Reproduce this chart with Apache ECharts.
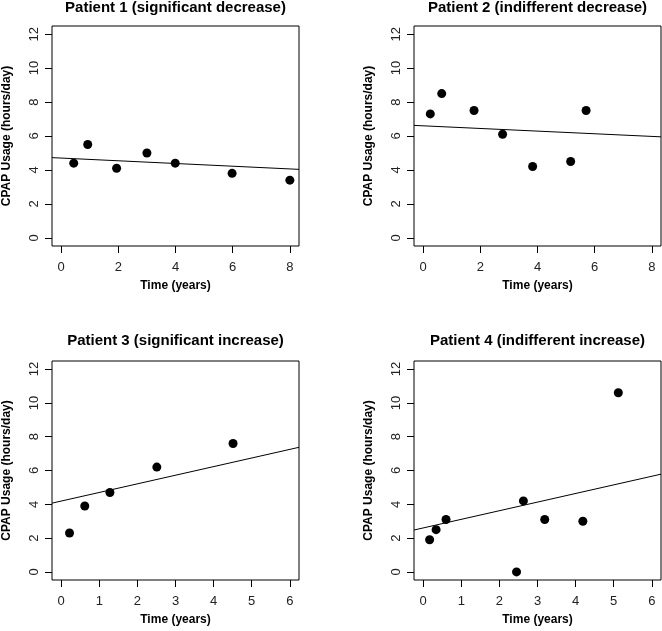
<!DOCTYPE html>
<html>
<head>
<meta charset="utf-8">
<script src="https://cdn.jsdelivr.net/npm/echarts@6/dist/echarts.min.js"></script>
<style>
html,body{margin:0;padding:0;background:#fff;}
#chart{width:662px;height:631px;}
</style>
</head>
<body>
<div id="chart"></div>
<script>
// ---- data ----
const titles = [
  "Patient 1 (significant decrease)",
  "Patient 2 (indifferent decrease)",
  "Patient 3 (significant increase)",
  "Patient 4 (indifferent increase)"
];
const p1Time = [0.44, 0.93, 1.94, 3.0, 3.99, 5.98, 8.0];
const p1Usage = [4.4, 5.5, 4.1, 5.0, 4.4, 3.8, 3.4];
const p2Time = [0.25, 0.65, 1.78, 2.78, 3.83, 5.16, 5.7];
const p2Usage = [7.3, 8.5, 7.5, 6.1, 4.2, 4.5, 7.5];
const p3Time = [0.22, 0.62, 1.28, 2.51, 4.51];
const p3Usage = [2.3, 3.9, 4.7, 6.2, 7.6];
const p4Time = [0.17, 0.34, 0.6, 2.45, 2.63, 3.19, 4.19, 5.12];
const p4Usage = [1.9, 2.5, 3.1, 0.0, 4.2, 3.1, 3.0, 10.6];
const fitIntercept = [4.70, 6.60, 4.19, 2.60];
const fitSlope = [-0.08, -0.078, 0.51, 0.51];
const xLimits = [[0, 8], [0, 8], [0, 6], [0, 6]];
const yLimits = [0, 12];
const xTicks = [[0, 2, 4, 6, 8], [0, 2, 4, 6, 8], [0, 1, 2, 3, 4, 5, 6], [0, 1, 2, 3, 4, 5, 6]];
const yTicks = [0, 2, 4, 6, 8, 10, 12];
const xLabel = "Time (years)";
const yLabel = "CPAP Usage (hours/day)";

const times = [p1Time, p2Time, p3Time, p4Time];
const usages = [p1Usage, p2Usage, p3Usage, p4Usage];

// ---- layout ----
const FONT = "'Liberation Sans', Arial, Helvetica, sans-serif";
const grids = [
  {left: 52, top: 26, width: 247, height: 220},
  {left: 414, top: 26, width: 247, height: 220},
  {left: 52, top: 361, width: 247, height: 219},
  {left: 414, top: 361, width: 247, height: 219}
];
function ext(lim) { const d = (lim[1] - lim[0]) * 0.04; return [lim[0] - d, lim[1] + d]; }

const option = {
  animation: false,
  backgroundColor: '#ffffff',
  title: [], grid: [], xAxis: [], yAxis: [], series: []
};

for (let i = 0; i < 4; i++) {
  const g = grids[i];
  const xr = ext(xLimits[i]);
  const yr = ext(yLimits);
  option.grid.push(Object.assign({show: true, borderColor: '#000', borderWidth: 1, backgroundColor: 'transparent', containLabel: false}, g));
  option.title.push({
    text: titles[i],
    left: g.left + g.width / 2,
    top: i < 2 ? 0 : 333,
    textAlign: 'center',
    padding: 0,
    textStyle: {fontFamily: FONT, fontSize: 15, fontWeight: 'bold', color: '#000'}
  });
  option.xAxis.push({
    type: 'value', gridIndex: i, min: xr[0], max: xr[1],
    axisLine: {show: false, onZero: false},
    axisTick: {show: true, inside: false, length: 7, customValues: xTicks[i], lineStyle: {color: '#000', width: 1}},
    axisLabel: {show: true, customValues: xTicks[i], margin: 15, fontFamily: FONT, fontSize: 13, color: '#222'},
    splitLine: {show: false},
    name: xLabel, nameLocation: 'middle', nameGap: 34,
    nameTextStyle: {fontFamily: FONT, fontSize: 12, fontWeight: 'bold', color: '#000'}
  });
  option.yAxis.push({
    type: 'value', gridIndex: i, min: yr[0], max: yr[1],
    axisLine: {show: false, onZero: false},
    axisTick: {show: true, inside: false, length: 7, customValues: yTicks, lineStyle: {color: '#000', width: 1}},
    axisLabel: {show: true, customValues: yTicks, rotate: 90, margin: 11, fontFamily: FONT, fontSize: 13, color: '#222'},
    splitLine: {show: false},
    name: yLabel, nameLocation: 'middle', nameGap: 39, nameRotate: 90,
    nameTextStyle: {fontFamily: FONT, fontSize: 12, fontWeight: 'bold', color: '#000'}
  });
  option.series.push({
    type: 'scatter', xAxisIndex: i, yAxisIndex: i,
    symbol: 'circle', symbolSize: 9,
    itemStyle: {color: '#000', opacity: 1},
    data: times[i].map((t, k) => [t, usages[i][k]])
  });
  option.series.push({
    type: 'line', xAxisIndex: i, yAxisIndex: i,
    showSymbol: false, silent: true,
    lineStyle: {color: '#000', width: 1},
    data: [xr[0], xr[1]].map(x => [x, fitIntercept[i] + fitSlope[i] * x])
  });
}

const chart = echarts.init(document.getElementById('chart'), null, {renderer: 'canvas'});
chart.setOption(option);
</script>
</body>
</html>
